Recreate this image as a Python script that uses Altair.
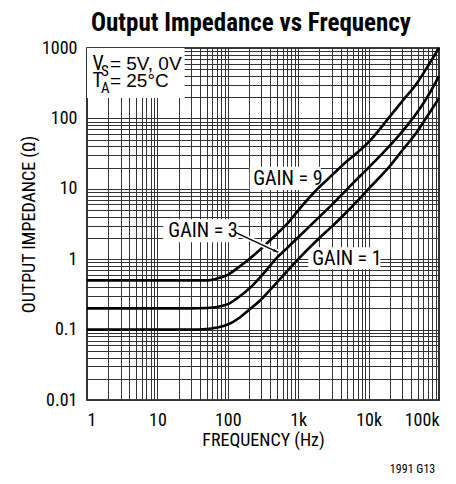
import altair as alt
import pandas as pd

FONT = "Liberation Sans Narrow, Arial Narrow, Roboto Condensed, Liberation Sans, sans-serif"
FONT_WIDE = "Liberation Sans, Arial, Helvetica, sans-serif"

# ---- data ----
freq = [1, 10, 20, 30, 50, 70, 100, 150, 200, 300, 500, 700, 1000, 2000, 3000,
        5000, 7000, 10000, 20000, 30000, 50000, 70000, 100000]
gain1 = [0.1, 0.1, 0.1, 0.1, 0.102, 0.107, 0.118, 0.15, 0.19, 0.27, 0.47, 0.68, 1.0,
         2.0, 2.9, 4.8, 6.8, 10, 21, 35, 67, 112, 193]
gain3 = [0.2, 0.2, 0.2, 0.2, 0.203, 0.21, 0.23, 0.3, 0.38, 0.58, 1.05, 1.45, 2.05,
         4.0, 5.9, 10, 14, 20, 41, 65, 125, 210, 400]
gain9 = [0.5, 0.5, 0.5, 0.5, 0.5, 0.53, 0.6, 0.8, 1.0, 1.42, 2.3, 3.2, 4.95,
         10.6, 15.5, 25, 33, 46, 106, 175, 330, 560, 1000]
series_names = ["GAIN = 1", "GAIN = 3", "GAIN = 9"]

x_major = [1, 10, 100, 1000, 10000, 100000]
y_major = [0.01, 0.1, 1, 10, 100, 1000]
x_grid = [round(m * 10 ** e) for e in range(0, 5) for m in range(1, 10)] + [100000]
y_grid = [round(m * 10.0 ** e, 6) for e in range(-2, 3) for m in range(1, 10)] + [1000]

rows = []
for name, vals in zip(series_names, [gain1, gain3, gain9]):
    for f, z in zip(freq, vals):
        rows.append({"freq": f, "z": z, "series": name})
curves = pd.DataFrame(rows)

# annotation boxes (white backgrounds) and labels, in data units
box_f1 = [1, 205, 12.1, 1390]
box_f2 = [24.3, 2100, 141, 14700]
box_z1 = [195, 9.6, 1.74, 0.72]
box_z2 = [1000, 20.5, 3.69, 1.476]
boxes = pd.DataFrame({"f1": box_f1, "f2": box_f2, "z1": box_z1, "z2": box_z2})

gain_label_text = ["GAIN = 9", "GAIN = 3", "GAIN = 1"]
gain_label_f = [230, 14.3, 1585]
gain_label_z = [11.2, 2.05, 0.819]
gain_labels = pd.DataFrame({"freq": gain_label_f, "z": gain_label_z, "t": gain_label_text})

arrow = pd.DataFrame({"freq": [127.8], "z": [2.41], "f2": [521], "z2": [1.253]})

cond_f = [1.193, 1.193]
cond_z = [493, 279]
cond_main = ["V", "T"]
cond_sub = ["S", "A"]
cond_rest = ["= 5V, 0V", "= 25°C"]
cond = pd.DataFrame({"freq": cond_f, "z": cond_z, "m": cond_main, "s": cond_sub, "r": cond_rest})

note = pd.DataFrame({"freq": [88500], "z": [0.00091], "t": ["1991 G13"]})

# ---- scales / axes ----
XS = alt.Scale(type="log", domain=[1, 100000], nice=False)
YS = alt.Scale(type="log", domain=[0.01, 1000], nice=False)
XA = alt.Axis(values=x_grid, grid=True, ticks=False, tickSize=0, domain=False,
              labelExpr="indexof([1,10,100,1000,10000,100000], datum.value) >= 0 ? "
                        "(datum.value >= 1000 ? toString(datum.value/1000) + 'k' : toString(datum.value)) : ''",
              labelOverlap=False, labelPadding=11, labelFontSize=18,
              title="FREQUENCY (Hz)", titleFontSize=18, titlePadding=2)
YA = alt.Axis(values=y_grid, grid=True, ticks=False, tickSize=0, domain=False,
              labelExpr="indexof([0.01,0.1,1,10,100,1000], datum.value) >= 0 ? toString(datum.value) : ''",
              labelOverlap=False, labelPadding=10, labelFontSize=18,
              title="OUTPUT IMPEDANCE (Ω)", titleFontSize=18, titlePadding=3)


def X(field):
    return alt.X(field, type="quantitative", scale=XS, axis=XA)


def Y(field):
    return alt.Y(field, type="quantitative", scale=YS, axis=YA)


box_layer = alt.Chart(boxes).mark_rect(fill="white").encode(
    x=X("f1"), x2="f2", y=Y("z1"), y2="z2")

line_layer = alt.Chart(curves).mark_line(color="black", strokeWidth=2.6, interpolate="monotone").encode(
    x=X("freq"), y=Y("z"), detail="series:N")

halo = alt.Chart(arrow).mark_rule(color="white", strokeWidth=5).encode(
    x=X("freq"), y=Y("z"), x2="f2", y2="z2")
shaft = alt.Chart(arrow).mark_rule(color="black", strokeWidth=1.3).encode(
    x=X("freq"), y=Y("z"), x2="f2", y2="z2")
head = alt.Chart(arrow).mark_point(shape="M0,0 L-0.3,1 L0.3,1 Z", filled=True, color="black",
                                   size=110, angle=115, opacity=1).encode(
    x=X("f2"), y=Y("z2"))

gain_text = alt.Chart(gain_labels).mark_text(font=FONT, fontSize=20, align="left",
                                             baseline="alphabetic", color="black").encode(
    x=X("freq"), y=Y("z"), text="t")

cond_main_t = alt.Chart(cond).mark_text(font=FONT, fontSize=20, align="left",
                                        baseline="alphabetic", color="black").encode(
    x=X("freq"), y=Y("z"), text="m")
cond_sub_t = alt.Chart(cond).mark_text(font=FONT, fontSize=15, align="left", dx=8.5, dy=6,
                                       baseline="alphabetic", color="black").encode(
    x=X("freq"), y=Y("z"), text="s")
cond_rest_t = alt.Chart(cond).mark_text(font=FONT_WIDE, fontSize=19, align="left", dx=17.5,
                                        baseline="alphabetic", color="black").encode(
    x=X("freq"), y=Y("z"), text="r")

note_t = alt.Chart(note).mark_text(font=FONT, fontSize=12, align="right",
                                   baseline="alphabetic", color="black").encode(
    x=X("freq"), y=Y("z"), text="t")

chart = alt.layer(box_layer, line_layer, halo, shaft, head, gain_text,
                  cond_main_t, cond_sub_t, cond_rest_t, note_t).properties(
    width=352, height=352,
    title=alt.TitleParams("Output Impedance vs Frequency", font=FONT, fontSize=25,
                          fontWeight="bold", color="black", anchor="middle",
                          frame="group", dx=-12, offset=3),
    padding={"left": 79, "top": 40, "right": 9, "bottom": 76},
    autosize=alt.AutoSizeParams(type="none"),
).configure_axis(
    labelFont=FONT, titleFont=FONT, labelColor="black", titleColor="black",
    titleFontWeight="normal", gridColor="#333333", gridWidth=1, gridOpacity=1,
).configure_view(stroke="black", strokeWidth=1.6)

chart.save("out.html", embed_options={"renderer": "svg", "actions": False})
